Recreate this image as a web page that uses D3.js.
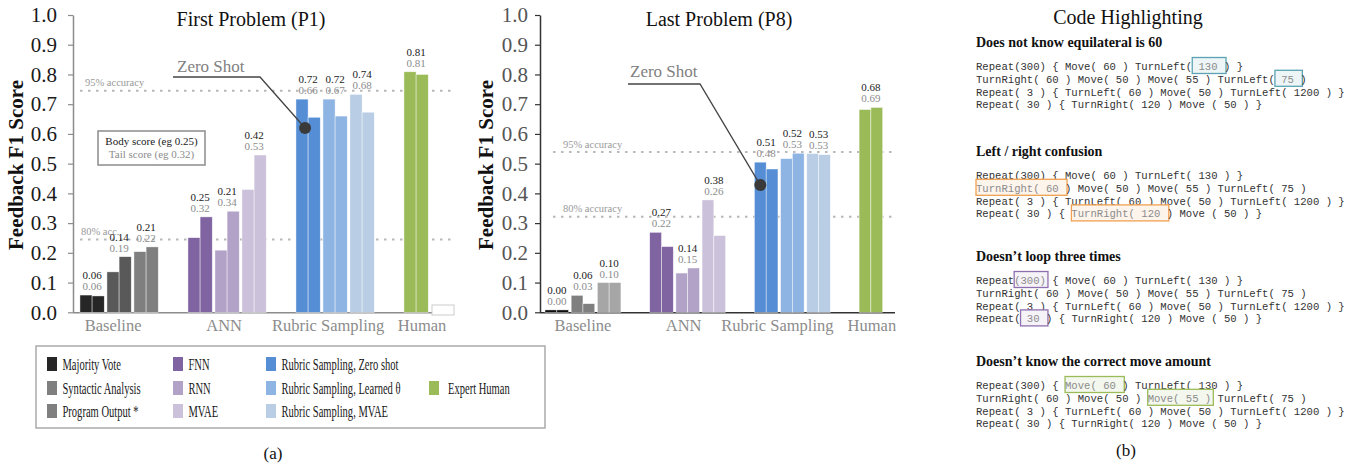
<!DOCTYPE html>
<html lang="en">
<head>
<meta charset="UTF-8" />
<title>Feedback F1 Score</title>
<script src="https://d3js.org/d3.v7.min.js"></script>
<style>
  body { margin: 0; background: #fff; }
  svg { display: block; font-family: "Liberation Serif", "DejaVu Serif", serif; }
  .val { font-size: 11px; text-anchor: middle; }
  .code { font-family: "Liberation Mono", monospace; font-size: 10.6px; fill: #333; white-space: pre; }
</style>
</head>
<body>
<svg id="fig" width="1364" height="466"></svg>
<script>
// ---- data ----
const groups = ["Baseline", "ANN", "Rubric Sampling", "Human"];
const methods = ["Majority Vote", "Syntactic Analysis", "Program Output *", "FNN", "RNN", "MVAE",
  "Rubric Sampling, Zero shot", "Rubric Sampling, Learned θ", "Rubric Sampling, MVAE", "Expert Human"];
const methodGroup = ["Baseline", "Baseline", "Baseline", "ANN", "ANN", "ANN",
  "Rubric Sampling", "Rubric Sampling", "Rubric Sampling", "Human"];

// P1 bar heights (body / tail) and the printed numbers
const p1Body = [0.058, 0.136, 0.204, 0.251, 0.209, 0.413, 0.717, 0.717, 0.733, 0.809];
const p1Tail = [0.055, 0.187, 0.220, 0.321, 0.340, 0.529, 0.656, 0.660, 0.673, 0.800];
const p1BodyText = ["0.06", "0.14", "0.21", "0.25", "0.21", "0.42", "0.72", "0.72", "0.74", "0.81"];
const p1TailText = ["0.06", "0.19", "0.22", "0.32", "0.34", "0.53", "0.66", "0.67", "0.68", "0.81"];

// P8
const p8Body = [0.008, 0.057, 0.100, 0.269, 0.132, 0.378, 0.505, 0.517, 0.534, 0.682];
const p8Tail = [0.008, 0.029, 0.100, 0.221, 0.149, 0.258, 0.482, 0.535, 0.530, 0.689];
const p8BodyText = ["0.00", "0.06", "0.10", "0.27", "0.14", "0.38", "0.51", "0.52", "0.53", "0.68"];
const p8TailText = ["0.00", "0.03", "0.10", "0.22", "0.15", "0.26", "0.48", "0.53", "0.53", "0.69"];

const yTicks = [0, 0.1, 0.2, 0.3, 0.4, 0.5, 0.6, 0.7, 0.8, 0.9, 1.0];
const p1RefValues = [0.745, 0.245];
const p1RefLabels = ["95% accuracy", "80% acc."];
const p8RefValues = [0.539, 0.321];
const p8RefLabels = ["95% accuracy", "80% accuracy"];
const zeroShotDot = [0.62, 0.428];

const codeTitles = ["Does not know equilateral is 60", "Left / right confusion",
  "Doesn’t loop three times", "Doesn’t know the correct move amount"];
const codeLines = [
  "Repeat(300) { Move( 60 ) TurnLeft( 130 ) }",
  "TurnRight( 60 ) Move( 50 ) Move( 55 ) TurnLeft( 75 )",
  "Repeat( 3 ) { TurnLeft( 60 ) Move( 50 ) TurnLeft( 1200 ) }",
  "Repeat( 30 ) { TurnRight( 120 ) Move ( 50 ) }"
];
// [line, first char, end char] per section
const codeMarks = [
  [[0, 34, 39], [1, 47, 51]],
  [[1, 0, 14], [3, 15, 30]],
  [[0, 6, 11], [3, 7, 11]],
  [[0, 14, 23], [1, 27, 37]]
];

// ---- styles ----
const sharedColors = ["#8064a2", "#b3a2c7", "#ccc1da", "#558ed5", "#8eb4e3", "#b9cde5", "#9bbb59"];
const p1Colors = ["#262626", "#595959", "#7f7f7f"].concat(sharedColors);
const p8Colors = ["#0d0d0d", "#7f7f7f", "#a6a6a6"].concat(sharedColors);
const legendColors = ["#262626", "#7f7f7f", "#7f7f7f"].concat(sharedColors);
const markStroke = ["#5ba3b3", "#f0a050", "#8e70b0", "#9bbb59"];
const markFill = ["#eef5f7", "#fdf4ec", "#f5f2f8", "#f3f7ee"];

const svg = d3.select("#fig");
const y = d3.scaleLinear().domain([0, 1]).range([312.3, 15]);

// index of each method inside its group
const slot = methods.map((m, i) =>
  methodGroup.slice(0, i).filter(g => g === methodGroup[i]).length);

function drawChart(cfg) {
  const g = svg.append("g");
  const x0 = d3.scaleBand().domain(groups)
    .range([cfg.start, cfg.start + groups.length * cfg.groupStep]);
  const x1 = d3.scaleBand().domain([0, 1, 2, 3]).range([0, cfg.groupStep])
    .paddingInner(0.1).paddingOuter(0.05);
  const bw = x1.bandwidth() / 2;
  const px = i => x0(methodGroup[i]) + x1(slot[i]);

  // title
  g.append("text").attr("x", cfg.titleX).attr("y", 26)
    .attr("text-anchor", "middle").attr("font-size", 20).attr("fill", "#111")
    .text(cfg.title);

  // y label
  g.append("text")
    .attr("transform", `translate(${cfg.labelX},165) rotate(-90)`)
    .attr("text-anchor", "middle").attr("font-size", 21).attr("font-weight", "bold")
    .attr("fill", "#111").text("Feedback F1 Score");

  // y axis
  const ax = g.append("g").attr("transform", `translate(${cfg.axisX},0)`)
    .call(d3.axisLeft(y).tickValues(yTicks).tickFormat(d3.format(".1f"))
      .tickSize(5).tickSizeOuter(0).tickPadding(cfg.tickPad));
  ax.select(".domain").attr("stroke", cfg.axisColor).attr("stroke-width", 1.5);
  ax.selectAll(".tick line").attr("stroke", cfg.axisColor).attr("stroke-width", 1.2);
  ax.selectAll(".tick text").attr("font-size", 21).attr("fill", cfg.tickColor)
    .attr("font-family", "Liberation Serif, serif");

  // reference lines
  cfg.refValues.forEach((v, k) => {
    g.append("line").attr("x1", cfg.refX[0]).attr("x2", cfg.refX[1])
      .attr("y1", y(v)).attr("y2", y(v))
      .attr("stroke", "#b8b8b8").attr("stroke-width", 2).attr("stroke-dasharray", "2.5,5.5");
    g.append("text").attr("x", cfg.refLabelX[k]).attr("y", y(v) - 4.5)
      .attr("font-size", 10.5).attr("fill", "#999").text(cfg.refLabels[k]);
  });

  // x baseline
  g.append("line").attr("x1", cfg.axisX).attr("x2", cfg.baseEnd)
    .attr("y1", y(0) + 0.5).attr("y2", y(0) + 0.5)
    .attr("stroke", cfg.axisColor).attr("stroke-width", 1.5);

  // bars
  methods.forEach((m, i) => {
    [cfg.body[i], cfg.tail[i]].forEach((v, k) => {
      g.append("rect").attr("x", px(i) + k * bw).attr("y", y(v))
        .attr("width", bw).attr("height", y(0) - y(v))
        .attr("fill", cfg.colors[i]).attr("stroke", "#fff").attr("stroke-width", 0.6)
        .attr("stroke-opacity", 0.7);
    });
    const top = y(Math.max(cfg.body[i], cfg.tail[i]));
    const cx = px(i) + bw;
    g.append("text").attr("class", "val").attr("x", cx).attr("y", top - 16)
      .attr("fill", "#1a1a1a").text(cfg.bodyText[i]);
    g.append("text").attr("class", "val").attr("x", cx).attr("y", top - 5)
      .attr("fill", "#8c8c8c").text(cfg.tailText[i]);
  });

  // group labels
  groups.forEach(gr => {
    const idx = methods.map((m, i) => i).filter(i => methodGroup[i] === gr);
    const a = px(idx[0]), b = px(idx[idx.length - 1]) + 2 * bw;
    g.append("text").attr("x", (a + b) / 2 + (cfg.groupDx[gr] || 0)).attr("y", 331)
      .attr("text-anchor", "middle").attr("font-size", 16.5).attr("fill", "#8c8c8c")
      .text(gr);
  });

  // zero shot annotation
  const z = cfg.zero;
  g.append("text").attr("x", z.tx).attr("y", z.ty).attr("font-size", 17)
    .attr("fill", "#808080").text("Zero Shot");
  const dx = px(6) + bw * z.pos, dy = y(cfg.dot);
  g.append("path")
    .attr("d", `M${z.ux1},${z.uy}H${z.ux2}L${dx},${dy}`)
    .attr("fill", "none").attr("stroke", "#444").attr("stroke-width", 1.3);
  g.append("circle").attr("cx", dx).attr("cy", dy).attr("r", 6).attr("fill", "#3a3a3a");
  return g;
}

const left = drawChart({
  title: "First Problem (P1)", titleX: 251, labelX: 23,
  axisX: 73, tickPad: 11, axisColor: "#8c8c8c", tickColor: "#1a1a1a",
  start: 78.6, groupStep: 108, baseEnd: 445,
  body: p1Body, tail: p1Tail, bodyText: p1BodyText, tailText: p1TailText, colors: p1Colors,
  refValues: p1RefValues, refLabels: p1RefLabels, refX: [80, 453], refLabelX: [85, 81],
  groupDx: { "Baseline": -6, "ANN": -3, "Rubric Sampling": -7, "Human": 6 },
  zero: { tx: 177, ty: 72, ux1: 173, ux2: 260, uy: 77, pos: 0.75 }, dot: zeroShotDot[0]
});
// in-chart key
left.append("rect").attr("x", 98).attr("y", 131).attr("width", 107).attr("height", 34)
  .attr("fill", "#fff").attr("stroke", "#8c8c8c").attr("stroke-width", 1.5);
left.append("text").attr("x", 151.5).attr("y", 145).attr("text-anchor", "middle")
  .attr("font-size", 11).attr("fill", "#1a1a1a").text("Body score (eg 0.25)");
left.append("text").attr("x", 151.5).attr("y", 158).attr("text-anchor", "middle")
  .attr("font-size", 11).attr("fill", "#8c8c8c").text("Tail score (eg 0.32)");
left.append("rect").attr("x", 432).attr("y", 305).attr("width", 22).attr("height", 10)
  .attr("fill", "#fff").attr("stroke", "#ccc");

drawChart({
  title: "Last Problem (P8)", titleX: 719, labelX: 493,
  axisX: 540, tickPad: 7, axisColor: "#333", tickColor: "#555",
  start: 543.7, groupStep: 104.7, baseEnd: 895,
  body: p8Body, tail: p8Tail, bodyText: p8BodyText, tailText: p8TailText, colors: p8Colors,
  refValues: p8RefValues, refLabels: p8RefLabels, refX: [553, 893], refLabelX: [563, 563],
  groupDx: { "ANN": -4, "Rubric Sampling": -15, "Human": 1 },
  zero: { tx: 630, ty: 77, ux1: 628, ux2: 700, uy: 84, pos: 0.5 }, dot: zeroShotDot[1]
});

// ---- bottom legend ----
const leg = svg.append("g");
leg.append("rect").attr("x", 36).attr("y", 346).attr("width", 509).attr("height", 82)
  .attr("fill", "#fff").attr("stroke", "#aaa").attr("stroke-width", 1.5);
const colX = [47, 173, 266, 429];
const rowY = [364, 388, 411];
methods.forEach((m, i) => {
  const col = Math.min(Math.floor(i / 3), 3);
  const row = i < 9 ? i % 3 : 1;
  leg.append("rect").attr("x", colX[col]).attr("y", rowY[row] - 7)
    .attr("width", 10).attr("height", 14).attr("fill", legendColors[i]);
  leg.append("text")
    .attr("transform", `translate(${colX[col] + (col === 3 ? 19 : 15.5)},${rowY[row] + 5.5}) scale(0.62,1)`)
    .attr("font-size", 17).attr("fill", "#1a1a1a").text(m);
});
svg.append("text").attr("x", 273).attr("y", 459).attr("text-anchor", "middle")
  .attr("font-size", 17).attr("fill", "#111").text("(a)");

// ---- code highlighting panel ----
const cp = svg.append("g");
const cx0 = 976, cw = 10.6 * 0.6;
cp.append("text").attr("x", 1128).attr("y", 24).attr("text-anchor", "middle")
  .attr("font-size", 20).attr("fill", "#111").text("Code Highlighting");
const headY = [47, 156, 261, 366];
codeTitles.forEach((t, s) => {
  cp.append("text").attr("x", cx0).attr("y", headY[s]).attr("font-size", 14)
    .attr("font-weight", "bold").attr("fill", "#111").text(t);
  codeLines.forEach((line, li) => {
    const by = headY[s] + 23 + li * 12.8;
    const mk = codeMarks[s].find(d => d[0] === li);
    if (mk) {
      cp.append("rect").attr("x", cx0 + mk[1] * cw).attr("y", by - 12.5)
        .attr("width", (mk[2] - mk[1]) * cw + 2).attr("height", 16)
        .attr("fill", markFill[s]).attr("stroke", markStroke[s]).attr("stroke-width", 1.3);
    }
    const tx = cp.append("text").attr("class", "code").attr("x", cx0).attr("y", by);
    if (mk) {
      tx.append("tspan").text(line.slice(0, mk[1]));
      tx.append("tspan").attr("fill", "#8c8c8c").text(line.slice(mk[1], mk[2]));
      tx.append("tspan").text(line.slice(mk[2]));
    } else {
      tx.text(line);
    }
  });
});
svg.append("text").attr("x", 1126).attr("y", 456).attr("text-anchor", "middle")
  .attr("font-size", 17).attr("fill", "#111").text("(b)");
</script>
</body>
</html>
